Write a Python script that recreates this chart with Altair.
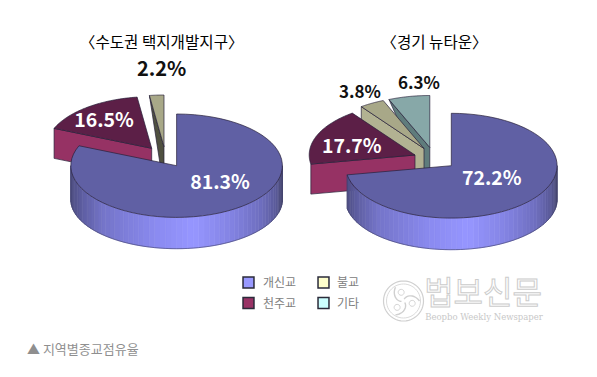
import math
import altair as alt

# ---- data ----
LEFT_TITLE = "〈수도권 택지개발지구〉"
RIGHT_TITLE = "〈경기 뉴타운〉"
LEFT_SHARES = [81.3, 16.5, 2.2]
RIGHT_SHARES = [72.2, 17.7, 3.8, 6.3]
LEFT_LABELS = ["81.3%", "16.5%", "2.2%"]
RIGHT_LABELS = ["72.2%", "17.7%", "3.8%", "6.3%"]
LEGEND_NAMES = ["개신교", "천주교", "불교", "기타"]
LEGEND_COLORS = ["#9999ff", "#993366", "#ffffcc", "#ccffff"]
CAPTION = "▲ 지역별종교점유율"
WM_TITLE = "법보신문"
WM_SUB = "Beopbo Weekly Newspaper"

# ---- styling ----
OFF = 8
RX = 105.8
TOP = {"main": "#6060a4", "red": "#5c1f47", "tan": "#a8a888", "teal": "#87a8a8"}
SIDE = {"red": "#963264", "tan": "#4f5040", "tan2": "#b2b292", "teal": "#5f7c7c"}
RIM_STOPS = [(0, "#4c4c80"), (.05, "#5d5da0"), (.15, "#7474c8"), (.4, "#8a8af0"),
             (.58, "#9696ff"), (.75, "#8484e4"), (.9, "#6e6ebe"), (.97, "#5a5a98"), (1, "#46466e")]
LINE = "#26203a"


def rim_color(u):
    for (u0, c0), (u1, c1) in zip(RIM_STOPS, RIM_STOPS[1:]):
        if u <= u1:
            t = (u - u0) / (u1 - u0)
            a = [int(c0[i:i + 2], 16) for i in (1, 3, 5)]
            b = [int(c1[i:i + 2], 16) for i in (1, 3, 5)]
            return "#%02x%02x%02x" % tuple(round(x + (y - x) * t) for x, y in zip(a, b))
    return RIM_STOPS[-1][1]


def pt(c, ry, a, dy=0):
    r = math.radians(a)
    return [c[0] + RX * math.sin(r), c[1] - ry * math.cos(r) + dy]


def arc(c, ry, a0, a1, dy=0, n=60):
    return [pt(c, ry, a0 + (a1 - a0) * i / n, dy) for i in range(n + 1)]


features = []


def poly(points, fill, stroke, sw=0.7):
    ring = [list(p) for p in points] + [list(points[0])]
    features.append({"type": "Feature",
                     "geometry": {"type": "Polygon", "coordinates": [ring]},
                     "properties": {"fill": fill, "stroke": stroke, "sw": sw}})


def ranges(shares):
    out, acc = [], 0
    for s in shares:
        out.append((acc * 3.6, (acc + s) * 3.6))
        acc += s
    return out


def slice3d(c, ry, a0, a1, top, side, depth, inset=None):
    p = pt(c, ry, a0)
    if inset is None:
        low = [p[0], p[1] + depth]
    else:
        low = [c[0] - inset, c[1] + depth]
    poly([p, c, [c[0], c[1] + depth], low], side, LINE)
    poly([c] + arc(c, ry, a0, a1), top, LINE)


def main3d(c, ry, ry2, depth, a1):
    step = 3.0
    a = 90.0
    end = min(a1, 270.0)
    while a < end - 1e-6:
        b = min(a + step, end)
        u = (math.sin(math.radians((a + b) / 2)) + 1) / 2
        col = rim_color(u)
        poly(arc(c, ry, a, b, n=2) + arc(c, ry2, b, a, depth, n=2), col, col, 0.6)
        a = b
    # outlines of the rim
    features.append({"type": "Feature",
                     "geometry": {"type": "LineString",
                                  "coordinates": [pt(c, ry, 90)] + arc(c, ry2, 90, end, depth) + [pt(c, ry, end)]},
                     "properties": {"fill": "transparent", "stroke": "#3a3a66", "sw": 0.6}})
    poly([c] + arc(c, ry, 0, a1), TOP["main"], LINE)


# left pie
lr = ranges(LEFT_SHARES)
slice3d((164.0, 146.7), 51.7, lr[2][0], lr[2][1], TOP["tan"], SIDE["tan"], 30, inset=2)
slice3d((151.7, 148.3), 51.7, lr[1][0], lr[1][1], TOP["red"], SIDE["red"], 30)
main3d((176.6, 165.7), 51.7, 49, 34, lr[0][1])

# right pie
rr = ranges(RIGHT_SHARES)
slice3d((429.8, 147.5), 52.0, rr[3][0], rr[3][1], TOP["teal"], SIDE["teal"], 30, inset=6)
slice3d((424.0, 148.5), 52.0, rr[2][0], rr[2][1], TOP["tan"], SIDE["tan2"], 30)
slice3d((415.0, 155.0), 52.0, rr[1][0], rr[1][1], TOP["red"], SIDE["red"], 30)
main3d((451.3, 165.7), 52.4, 50, 34, rr[0][1])

# watermark emblem
WM = "#d0d0d0"
wc = (403.5, 301.0)


def ring(c, r, n=48):
    return [[c[0] + r * math.cos(2 * math.pi * i / n), c[1] + r * math.sin(2 * math.pi * i / n)] for i in range(n)]


poly(ring(wc, 20), "transparent", WM, 1.2)
poly(ring(wc, 17), "transparent", WM, 0.8)
for k in range(3):
    base = k * 120 - 70
    pts = []
    for i in range(13):
        t = i / 12
        ang = math.radians(base + 70 * t)
        pts.append([wc[0] + (2 + 14 * t) * math.cos(ang), wc[1] + (2 + 14 * t) * math.sin(ang)])
    features.append({"type": "Feature", "geometry": {"type": "LineString", "coordinates": pts},
                     "properties": {"fill": "transparent", "stroke": WM, "sw": 1.4}})
    ang = math.radians(base + 85)
    poly(ring((wc[0] + 9 * math.cos(ang), wc[1] + 9 * math.sin(ang)), 3, 16), "transparent", WM, 0.9)

shapes = alt.Chart(alt.Data(values=features)).mark_geoshape().encode(
    color=alt.Color("properties.fill:N", scale=None),
    stroke=alt.Stroke("properties.stroke:N", scale=None),
    strokeWidth=alt.StrokeWidth("properties.sw:Q", scale=None),
).project(type="identity", scale=1, translate=[-OFF, -OFF])


def texts(rows, **mark):
    return alt.Chart(alt.Data(values=rows)).mark_text(**mark).encode(
        x=alt.X("x:Q", scale=None, axis=None),
        y=alt.Y("y:Q", scale=None, axis=None),
        text="t:N",
    )


def at(t, x, y):
    return {"t": t, "x": x - OFF, "y": y - OFF}


KR = "Noto Sans CJK KR"
titles = texts([at(LEFT_TITLE, 161.7, 43.0), at(RIGHT_TITLE, 434.5, 43.0)],
               font=KR, fontSize=15.6, color="#000000", align="center", baseline="middle")
white_big = texts([at(LEFT_LABELS[0], 220, 183), at(LEFT_LABELS[1], 104, 120.5),
                   at(RIGHT_LABELS[0], 491.7, 179.3), at(RIGHT_LABELS[1], 351.7, 147.3)],
                  font=KR, fontSize=19.5, fontWeight=700, color="#ffffff", align="center", baseline="middle")
black_big = texts([at(LEFT_LABELS[2], 161.7, 69.5)],
                  font=KR, fontSize=20, fontWeight=700, color="#111111", align="center", baseline="middle")
black_small = texts([at(RIGHT_LABELS[2], 360, 92.5), at(RIGHT_LABELS[3], 419, 83.5)],
                    font=KR, fontSize=17, fontWeight=700, color="#111111", align="center", baseline="middle")

leg_rows = [
    {"x": 248.5 - OFF, "y": 282.5 - OFF, "c": LEGEND_COLORS[0]},
    {"x": 248.5 - OFF, "y": 303 - OFF, "c": LEGEND_COLORS[1]},
    {"x": 323.5 - OFF, "y": 282.5 - OFF, "c": LEGEND_COLORS[2]},
    {"x": 323.5 - OFF, "y": 303 - OFF, "c": LEGEND_COLORS[3]},
]
leg_boxes = alt.Chart(alt.Data(values=leg_rows)).mark_point(
    shape="square", size=120, filled=False, stroke="#2b2b3a", strokeWidth=1.5, opacity=1
).encode(
    x=alt.X("x:Q", scale=None, axis=None),
    y=alt.Y("y:Q", scale=None, axis=None),
    fill=alt.Fill("c:N", scale=None),
)
leg_text = texts([at(LEGEND_NAMES[0], 263, 283), at(LEGEND_NAMES[1], 263, 303.5),
                  at(LEGEND_NAMES[2], 337, 283), at(LEGEND_NAMES[3], 337, 303.5)],
                 font=KR, fontSize=12, color="#808080", align="left", baseline="middle")
cap = texts([at(CAPTION, 27, 350)], font=KR, fontSize=13, color="#8f8f8f", align="left", baseline="middle")
wm1 = texts([at(WM_TITLE, 483, 294)], font=KR, fontSize=32, color="#ffffff", stroke="#cccccc",
            strokeWidth=1, align="center", baseline="middle")
wm2 = texts([at(WM_SUB, 484, 317)], font="DejaVu Serif", fontSize=8.5, color="#c8c8c8", align="center",
            baseline="middle")

chart = alt.layer(shapes, titles, white_big, black_big, black_small, leg_boxes, leg_text, cap, wm1, wm2).properties(
    width=581, height=355, padding=0, background="white",
    autosize=alt.AutoSizeParams(type="none"),
).configure_view(stroke=None)

chart.save("out.html", embed_options={"renderer": "svg", "actions": False})
